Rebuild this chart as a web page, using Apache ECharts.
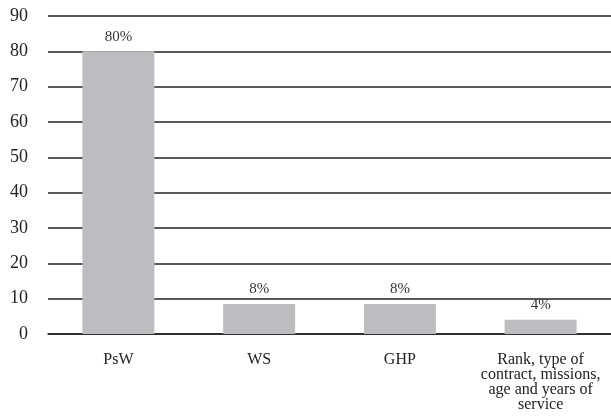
<!DOCTYPE html>
<html>
<head>
<meta charset="utf-8">
<script src="https://cdn.jsdelivr.net/npm/echarts@6/dist/echarts.min.js"></script>
<style>
  html, body { margin: 0; padding: 0; background: #fff; }
  #chart { width: 611px; height: 416px; }
</style>
</head>
<body>
<div id="chart"></div>
<script>
const categories = ['PsW', 'WS', 'GHP', 'Rank, type of\ncontract, missions,\nage and years of\nservice']
const values = [80, 8.5, 8.5, 4]
const valueLabels = ['80%', '8%', '8%', '4%']
const yTicks = { min: 0, max: 90, interval: 10 }

const font = '"Liberation Serif", "DejaVu Serif", serif'
const chart = echarts.init(document.getElementById('chart'))

chart.setOption({
  animation: false,
  grid: { left: 48, right: -2, top: 16, bottom: 82 },
  xAxis: {
    type: 'category',
    data: categories,
    axisLine: { lineStyle: { color: '#222', width: 1.5 } },
    axisTick: { show: false },
    axisLabel: {
      color: '#222',
      fontFamily: font,
      fontSize: 16,
      lineHeight: 15,
      margin: 18,
      interval: 0,
    },
  },
  yAxis: {
    type: 'value',
    min: yTicks.min,
    max: yTicks.max,
    interval: yTicks.interval,
    axisLine: { show: false },
    axisTick: { show: false },
    splitLine: { lineStyle: { color: '#222', width: 1.5 } },
    axisLabel: {
      color: '#222',
      fontFamily: font,
      fontSize: 18,
      margin: 20,
    },
  },
  series: [{
    type: 'bar',
    data: values,
    barWidth: 72,
    itemStyle: { color: '#bcbdc0' },
    label: {
      show: true,
      position: 'top',
      distance: 7,
      color: '#333',
      fontFamily: font,
      fontSize: 15,
      formatter: (p) => valueLabels[p.dataIndex],
    },
  }],
})
</script>
</body>
</html>
